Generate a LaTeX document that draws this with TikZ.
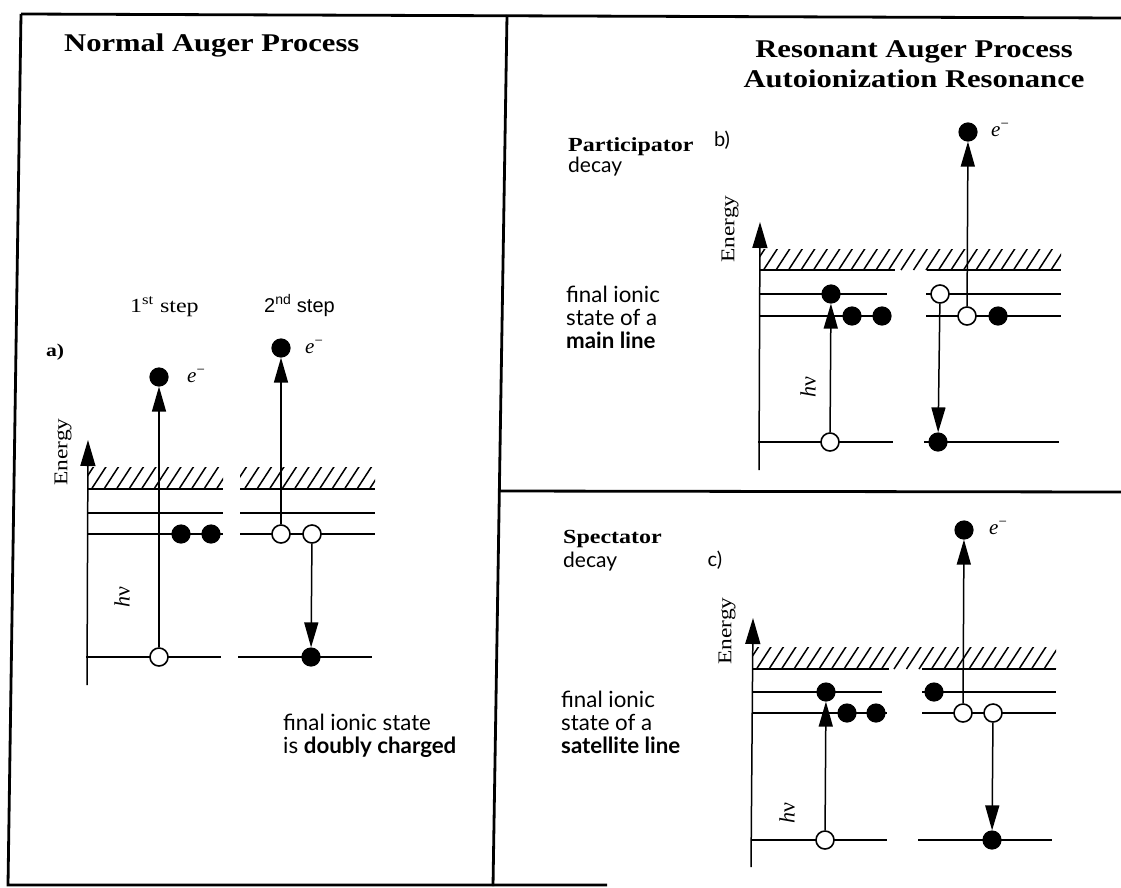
\documentclass[tikz,border=0pt]{standalone}
\usepackage{fontspec}
\usepackage{graphicx}
\setmainfont{Liberation Serif}
\newfontfamily\humfont{Lato}
\newfontfamily\grotfont{Liberation Sans}
\usetikzlibrary{arrows.meta}
\newcommand\widen[1]{\scalebox{1.2}[1]{#1}}
\newcommand\hatchband[4]{%
  \begin{scope}
    \clip (#1,#3) rectangle (#2,#4);
    \foreach \k in {0,...,30}{\draw[hatchline] ({#1+\k*12.5-8},#4) -- ++(15,-23);}
  \end{scope}}
\begin{document}
\begin{tikzpicture}[x=1pt,y=-1pt,
  frame/.style={line width=2.8pt},
  lev/.style={line width=1.8pt},
  baseline/.style={line width=2.4pt},
  hatchline/.style={line width=1.5pt},
  axis/.style={line width=1.5pt,-{Triangle[length=26pt,width=15pt]}},
  trans/.style={line width=1.5pt,-{Triangle[length=25pt,width=14pt]}},
  filled/.style={circle,draw,fill=black,minimum size=18pt,inner sep=0pt,line width=1.2pt},
  hole/.style={circle,draw,fill=white,minimum size=18pt,inner sep=0pt,line width=1.6pt},
  txt/.style={inner sep=0pt,anchor=base west},
  ttl/.style={inner sep=0pt,font=\fontsize{25.5}{30}\selectfont\bfseries},
  hum/.style={txt,font=\humfont\fontsize{22.3}{26}\selectfont},
  humd/.style={txt,font=\humfont\fontsize{21}{24}\selectfont},
  serl/.style={txt,font=\fontsize{20}{24}\selectfont},
  elab/.style={inner sep=0pt,anchor=west,font=\fontsize{21}{22}\selectfont},
  enlab/.style={inner sep=0pt,rotate=90,font=\fontsize{19.5}{20}\selectfont},
  hvlab/.style={inner sep=0pt,rotate=90,font=\fontsize{22}{24}\selectfont}
]
\useasboundingbox (0,0) rectangle (1121,887);
\fill[white] (0,0) rectangle (1121,887);

% ---------- frame ----------
\draw[frame] (21,14) -- (1121,18);
\draw[frame] (21,14) -- (8,885) -- (607,885);
\draw[frame] (507,15) -- (493,886);
\draw[frame] (499,491) -- (1121,492);

% ---------- titles ----------
\node[ttl,anchor=base west] (tNA) at (64,51) {\widen{Normal Auger Process}};
\node[ttl,anchor=base] (tRA1) at (914,57) {\widen{Resonant Auger Process}};
\node[ttl,anchor=base] (tRA2) at (914,87) {\widen{Autoionization Resonance}};

% ================= panel a =================
\draw[baseline] (87,489) -- (223,489);
\draw[baseline] (240,489) -- (375,489);
\hatchband{87}{223}{467}{489}
\hatchband{240}{375}{467}{489}
\draw[lev] (87,513) -- (223,513);
\draw[lev] (240,513) -- (375,513);
\draw[lev] (87,534) -- (223,534);
\draw[lev] (240,534) -- (375,534);
\draw[lev] (86,657) -- (221,657);
\draw[lev] (238,657) -- (372,657);
\coordinate (aAx0) at (87,685);
\coordinate (aAx1) at (88,440);
\draw[axis] (aAx0) -- (aAx1);

\node[hole]   (aH0) at (159,657) {};
\node[filled] (aE1) at (159,377) {};
\node[filled] (aF1) at (181,534) {};
\node[filled] (aF2) at (211,534) {};
\node[hole]   (aH1) at (281,534) {};
\node[hole]   (aH2) at (312,534) {};
\node[filled] (aE2) at (281,348) {};
\node[filled] (aF3) at (311,657) {};
\draw[trans] (aH0) -- (aE1);
\draw[trans] (aH1) -- (aE2);
\draw[trans] (aH2) -- (aF3);

\node[serl] (st1) at (130,312) {\widen{1\textsuperscript{st} step}};
\node[txt,font=\grotfont\fontsize{20}{24}\selectfont] (st2) at (264,312) {2\textsuperscript{nd} step};
\node[inner sep=0pt,font=\bfseries\fontsize{18}{20}\selectfont] (la) at (55,352) {\widen{a)}};
\node[enlab] (enA) at (63,452) {\widen{Energy}};
\node[hvlab] (hvA) at (122,597) {\textit{h}ν};
\node[elab] (eA1) at (187,376) {\textit{e}\textsuperscript{−}};
\node[elab] (eA2) at (305,347) {\textit{e}\textsuperscript{−}};
\node[hum] (fA1) at (283,730) {final ionic state};
\node[hum] (fA2) at (283,753) {is \textbf{doubly charged}};

% ================= panel b =================
\draw[baseline] (759,270) -- (895,270);
\draw[baseline] (927,270) -- (1061,270);
\hatchband{759}{1061}{249}{270}
\draw[lev] (759,294) -- (887,294);
\draw[lev] (926,294) -- (1061,294);
\draw[lev] (759,316) -- (890,316);
\draw[lev] (926,316) -- (1061,316);
\draw[lev] (758,442) -- (893,442);
\draw[lev] (924,442) -- (1059,442);
\coordinate (bAx0) at (759,470);
\coordinate (bAx1) at (760,222);
\draw[axis] (bAx0) -- (bAx1);

\node[hole]   (bH0) at (830,442) {};
\node[filled] (bF0) at (831,294) {};
\node[filled] (bF1) at (852,316) {};
\node[filled] (bF2) at (882,316) {};
\node[hole]   (bH1) at (940,294) {};
\node[filled] (bF3) at (938,442) {};
\node[hole]   (bH2) at (967,316) {};
\node[filled] (bE)  at (968,132) {};
\node[filled] (bF4) at (998,316) {};
\draw[trans] (bH0) -- (bF0);
\draw[trans] (bH1) -- (bF3);
\draw[trans] (bH2) -- (bE);

\node[txt,font=\bfseries\fontsize{20}{24}\selectfont] (pB1) at (568,151) {\widen{Participator}};
\node[humd] (pB2) at (568,172) {decay};
\node[inner sep=0pt,font=\humfont\fontsize{20}{24}\selectfont] (lb) at (722,140) {b)};
\node[enlab] (enB) at (730,229) {\widen{Energy}};
\node[hvlab] (hvB) at (808,387) {\textit{h}ν};
\node[elab] (eB) at (991,130) {\textit{e}\textsuperscript{−}};
\node[hum] (fB1) at (566,302) {final ionic};
\node[hum] (fB2) at (566,325) {state of a};
\node[hum] (fB3) at (566,348) {\textbf{main line}};

% ================= panel c =================
\draw[baseline] (752,669) -- (889,669);
\draw[baseline] (922,669) -- (1056,669);
\hatchband{752}{1056}{647}{669}
\draw[lev] (752,692) -- (882,692);
\draw[lev] (922,692) -- (1056,692);
\draw[lev] (752,713) -- (887,713);
\draw[lev] (922,713) -- (1056,713);
\draw[lev] (751,840) -- (887,840);
\draw[lev] (918,840) -- (1052,840);
\coordinate (cAx0) at (751,867);
\coordinate (cAx1) at (753,618);
\draw[axis] (cAx0) -- (cAx1);

\node[hole]   (cH0) at (825,840) {};
\node[filled] (cF0) at (826,692) {};
\node[filled] (cF1) at (847,713) {};
\node[filled] (cF2) at (876,713) {};
\node[filled] (cF3) at (934,692) {};
\node[hole]   (cH1) at (963,713) {};
\node[filled] (cE)  at (964,530) {};
\node[hole]   (cH2) at (993,713) {};
\node[filled] (cF4) at (992,840) {};
\draw[trans] (cH0) -- (cF0);
\draw[trans] (cH1) -- (cE);
\draw[trans] (cH2) -- (cF4);

\node[txt,font=\bfseries\fontsize{20}{24}\selectfont] (sC1) at (563,543) {\widen{Spectator}};
\node[humd] (sC2) at (563,567) {decay};
\node[inner sep=0pt,font=\humfont\fontsize{20}{24}\selectfont] (lc) at (715,560) {c)};
\node[enlab] (enC) at (727,631) {\widen{Energy}};
\node[hvlab] (hvC) at (787,813) {\textit{h}ν};
\node[elab] (eC) at (989,528) {\textit{e}\textsuperscript{−}};
\node[hum] (fC1) at (561,707) {final ionic};
\node[hum] (fC2) at (561,730) {state of a};
\node[hum] (fC3) at (561,753) {\textbf{satellite line}};
\end{tikzpicture}
\end{document}
